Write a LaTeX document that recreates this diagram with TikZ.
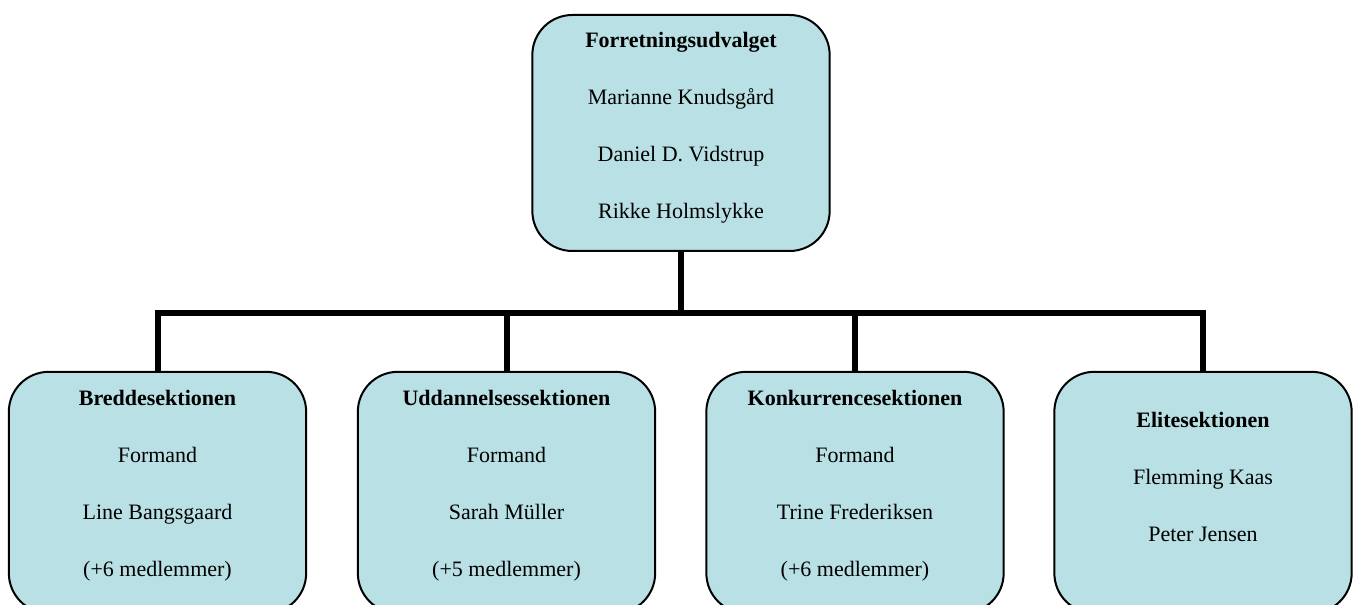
\documentclass[tikz,border=0pt]{standalone}
\usepackage{fontspec}
\setmainfont{Liberation Serif}
\usetikzlibrary{positioning}

\definecolor{boxblue}{RGB}{185,224,228}

\begin{document}
\begin{tikzpicture}[
    x=0.75pt, y=0.75pt,
    font=\fontsize{16.5}{19.8}\selectfont,
    line/.style={line width=4.5pt},
    unit/.style={
        draw, line width=1.5pt,
        rounded corners=30pt,
        fill=boxblue,
        minimum width=223pt,
        align=center
    },
    board/.style={unit, minimum height=177pt, text depth=11pt},
    section/.style={unit, minimum height=181pt, text depth=13.5pt}
]
\useasboundingbox (0,0) rectangle (1357,605);

% Top
\node[board] (fu) at (681,472) {%
\textbf{Forretningsudvalget}\\[23pt]
Marianne Knudsgård\\[23pt]
Daniel D. Vidstrup\\[23pt]
Rikke Holmslykke};

% Sections
\node[section] (bredde) at (157.5,112.5) {%
\textbf{Breddesektionen}\\[23pt]
Formand\\[23pt]
Line Bangsgaard\\[23pt]
(+6 medlemmer)};
\node[section] (udd) at (506.5,112.5) {%
\textbf{Uddannelsessektionen}\\[23pt]
Formand\\[23pt]
Sarah Müller\\[23pt]
(+5 medlemmer)};
\node[section] (konk) at (855,112.5) {%
\textbf{Konkurrencesektionen}\\[23pt]
Formand\\[23pt]
Trine Frederiksen\\[23pt]
(+6 medlemmer)};
\node[section, text depth=24pt] (elite) at (1203,112.5) {%
\textbf{Elitesektionen}\\[23pt]
Flemming Kaas\\[23pt]
Peter Jensen};

% Lines
\coordinate (bar) at (681,292);
\draw[line] (fu.south) -- (bar);
\draw[line] (bar) -| (bredde.north);
\draw[line] (bar) -| (udd.north);
\draw[line] (bar) -| (konk.north);
\draw[line] (bar) -| (elite.north);

\end{tikzpicture}
\end{document}
